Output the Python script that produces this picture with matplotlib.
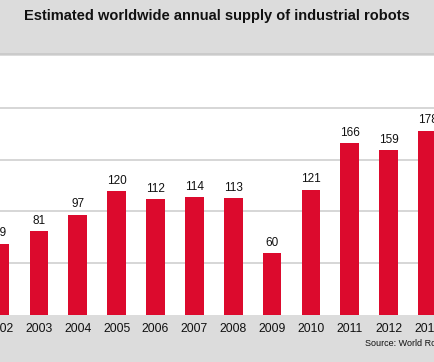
import matplotlib.pyplot as plt

years = [2002, 2003, 2004, 2005, 2006, 2007, 2008, 2009, 2010, 2011, 2012, 2013]
supply = [69, 81, 97, 120, 112, 114, 113, 60, 121, 166, 159, 178]

W, H = 434, 362
fig = plt.figure(figsize=(W / 100, H / 100), dpi=100, facecolor="#dcdcdc")
plt.rcParams['font.family'] = ['Liberation Sans', 'DejaVu Sans']

# plot area: white band between header and footer
top_px, bot_px = 56, 315
ax = fig.add_axes([0, (H - bot_px) / H, 1, (bot_px - top_px) / H])
ax.set_facecolor("white")

ax.bar(years, supply, width=0.48, color="#dc0a2d", zorder=3)
for x, v in zip(years, supply):
    ax.text(x, v + 4, str(v), ha="center", va="bottom", fontsize=8.5,
            color="#111111", zorder=4)

ax.set_xlim(2002.108, 2013.166)
ax.set_ylim(0, 250)
ax.set_yticks([50, 100, 150, 200])
ax.yaxis.grid(True, color="#cfcfcf", linewidth=1.2)
ax.set_axisbelow(True)
ax.tick_params(left=False, labelleft=False, bottom=False, labelsize=8.8,
               pad=2.5, labelcolor="#111111")
ax.set_xticks(years)
ax.set_xticklabels([str(y) for y in years])
for s in ax.spines.values():
    s.set_visible(False)

# header separator
fig.add_artist(plt.Line2D([0, 1], [(H - 54) / H] * 2, color="#c8c8c8", lw=1.2))

fig.text(0.5, (H - 16) / H, "Estimated worldwide annual supply of industrial robots",
         ha="center", va="center", fontsize=10.5, fontweight="bold", color="#111111")
fig.text(365 / W, (H - 343) / H, "Source: World Robotics", ha="left", va="center",
         fontsize=6.5, color="#111111")

fig.savefig("out.png", dpi=100, facecolor=fig.get_facecolor())
